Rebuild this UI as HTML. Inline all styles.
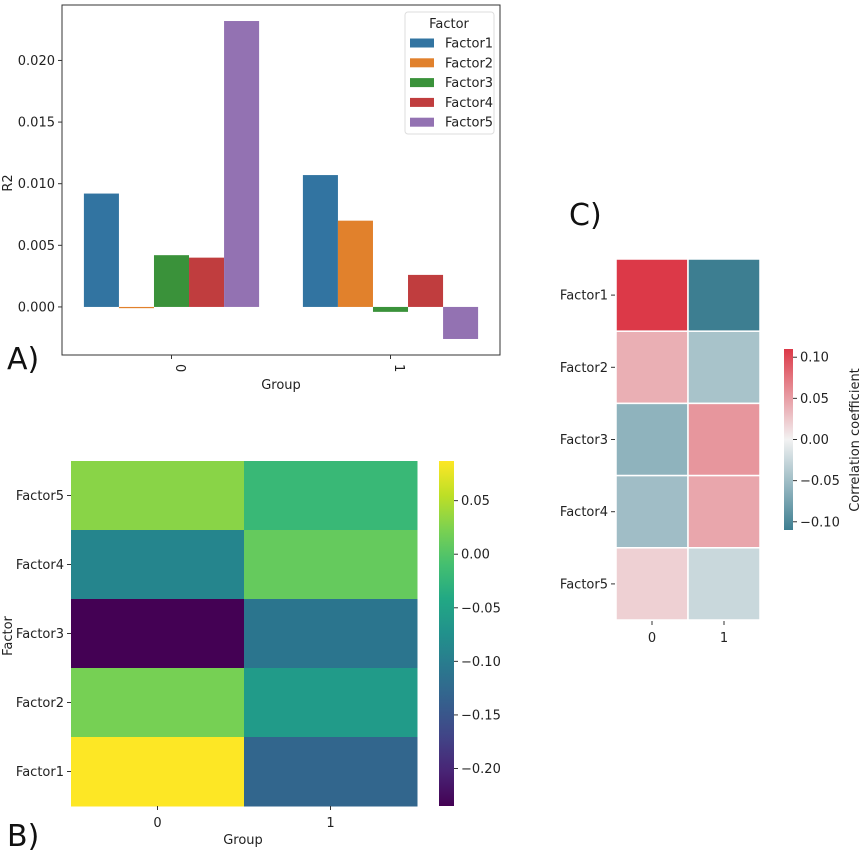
<!DOCTYPE html>
<html><head><meta charset="utf-8"><style>
html,body{margin:0;padding:0;background:#fff}
svg{display:block;font-family:"DejaVu Sans","Liberation Sans",sans-serif}
</style></head><body>
<svg id="s" width="865" height="856" viewBox="0 0 865 856"></svg>
<script>
// ---- Chart A data ----
const groupsA = ["0","1"];
const factorsA = ["Factor1","Factor2","Factor3","Factor4","Factor5"];
const r2Group0 = [0.0092,-0.0001,0.0042,0.0040,0.0232];
const r2Group1 = [0.0107,0.0070,-0.0004,0.0026,-0.0026];
const yTicksA = [0.000,0.005,0.010,0.015,0.020];
// ---- Chart B data ----
const rowsB = ["Factor5","Factor4","Factor3","Factor2","Factor1"];
const colsB = ["0","1"];
const heatB0 = [0.030,-0.090,-0.235,0.020,0.087];
const heatB1 = [-0.020,0.010,-0.110,-0.060,-0.130];
const cbTicksB = [0.05,0.00,-0.05,-0.10,-0.15,-0.20];
// ---- Chart C data ----
const rowsC = ["Factor1","Factor2","Factor3","Factor4","Factor5"];
const colsC = ["0","1"];
const corrC0 = [0.110,0.040,-0.060,-0.050,0.020];
const corrC1 = [-0.110,-0.045,0.055,0.045,-0.025];
const cbTicksC = [0.10,0.05,0.00,-0.05,-0.10];

const NS="http://www.w3.org/2000/svg";
const svg=document.getElementById('s');
function mk(tag,attrs,parent,text){const e=document.createElementNS(NS,tag);for(const k in attrs)e.setAttribute(k,attrs[k]);if(text!==undefined)e.textContent=text;(parent||svg).appendChild(e);return e;}
function fmt(v,d){const s=Math.abs(v).toFixed(d);return (v<0?"\u2212":"")+s;}

// ===== Chart A =====
const gA=mk('g',{});


const A={x0:62,x1:500,y0:5,y1:355,vmin:-0.0039,vmax:0.0245};
const yA=v=>A.y1-(v-A.vmin)/(A.vmax-A.vmin)*(A.y1-A.y0);
const catW=(A.x1-A.x0)/groupsA.length;
const xCat=i=>A.x0+catW*(i+0.5);
const barW=catW*0.8/factorsA.length;
const colorsA=["#3274a1","#e1812c","#3a923a","#c03d3e","#9372b2"];
[r2Group0,r2Group1].forEach((vals,gi)=>{
  vals.forEach((v,fi)=>{
    const x=xCat(gi)-catW*0.4+fi*barW;
    const y=Math.min(yA(v),yA(0)),h=Math.abs(yA(v)-yA(0));
    const r=mk('rect',{x:x,y:y,width:barW,height:Math.max(h,1),fill:colorsA[fi]},gA);
    
    
  });
});
mk('rect',{x:A.x0,y:A.y0,width:A.x1-A.x0,height:A.y1-A.y0,fill:'none',stroke:'#333','stroke-width':1},gA);
yTicksA.forEach(t=>{
  const y=yA(t);
  mk('line',{x1:A.x0-4,x2:A.x0,y1:y,y2:y,stroke:'#333'},gA);
  const tx=mk('text',{x:A.x0-7,y:y+4.5,'font-size':13,'text-anchor':'end',fill:'#222'},gA,t.toFixed(3));
  
  
});
groupsA.forEach((g,i)=>{
  const x=xCat(i);
  mk('line',{x1:x,x2:x,y1:A.y1,y2:A.y1+4,stroke:'#333'},gA);
  const tx=mk('text',{x:x+4.5,y:A.y1+9,'font-size':13,fill:'#222',transform:`rotate(90 ${x+4.5} ${A.y1+9})`},gA,g);
  
  
});
let t=mk('text',{x:281,y:389,'font-size':13,'text-anchor':'middle',fill:'#222'},gA,'Group');


t=mk('text',{x:12,y:183,'font-size':13,'text-anchor':'middle',fill:'#222',transform:'rotate(-90 12 183)'},gA,'R2');


t=mk('text',{x:7,y:369,'font-size':30,fill:'#111'},gA,'A)');


// legend
const lg=mk('g',{},gA);


mk('rect',{x:405,y:12,width:89,height:122,rx:3,fill:'#fff',stroke:'#ddd'},lg);
mk('text',{x:449,y:28,'font-size':13,'text-anchor':'middle',fill:'#222'},lg,'Factor');
factorsA.forEach((f,i)=>{
  const y=43+i*19.8;
  const e=mk('g',{},lg);
  
  
  mk('rect',{x:410,y:y-4.5,width:24,height:9,fill:colorsA[i]},e);
  mk('text',{x:445,y:y+4.5,'font-size':13,fill:'#222'},e,f);
});

// ===== Chart B (viridis) =====
const vir=[[68,1,84],[72,36,117],[65,68,135],[53,95,141],[42,120,142],[33,145,140],[34,168,132],[68,191,112],[122,209,81],[189,223,38],[253,231,37]];
function viridis(u){u=Math.max(0,Math.min(1,u));const p=u*(vir.length-1),i=Math.min(Math.floor(p),vir.length-2),f=p-i;const c=vir[i].map((a,k)=>Math.round(a+(vir[i+1][k]-a)*f));return `rgb(${c})`;}
const gB=mk('g',{});


const B={x0:71,x1:417,y0:461,y1:806,vmin:-0.235,vmax:0.087};
const cwB=(B.x1-B.x0)/colsB.length,rhB=(B.y1-B.y0)/rowsB.length;
[heatB0,heatB1].forEach((vals,ci)=>{
  vals.forEach((v,ri)=>{
    const r=mk('rect',{x:B.x0+ci*cwB,y:B.y0+ri*rhB,width:cwB+0.5,height:rhB+0.5,fill:viridis((v-B.vmin)/(B.vmax-B.vmin))},gB);
    
    
  });
});
rowsB.forEach((r,i)=>{
  const y=B.y0+(i+0.5)*rhB;
  mk('line',{x1:B.x0-4,x2:B.x0,y1:y,y2:y,stroke:'#333'},gB);
  const tx=mk('text',{x:B.x0-7,y:y+4.5,'font-size':13,'text-anchor':'end',fill:'#222'},gB,r);
  
  
});
colsB.forEach((c,i)=>{
  const x=B.x0+(i+0.5)*cwB;
  mk('line',{x1:x,x2:x,y1:B.y1,y2:B.y1+4,stroke:'#333'},gB);
  const tx=mk('text',{x:x,y:B.y1+21,'font-size':13,'text-anchor':'middle',fill:'#222'},gB,c);
  
  
});
t=mk('text',{x:243,y:844,'font-size':13,'text-anchor':'middle',fill:'#222'},gB,'Group');


t=mk('text',{x:12,y:636,'font-size':13,'text-anchor':'middle',fill:'#222',transform:'rotate(-90 12 636)'},gB,'Factor');


t=mk('text',{x:7,y:846,'font-size':30,fill:'#111'},gB,'B)');


// colorbar B
const defs=mk('defs',{});
const grB=mk('linearGradient',{id:'gradB',x1:0,y1:1,x2:0,y2:0},defs);
for(let i=0;i<=20;i++)mk('stop',{offset:i/20,'stop-color':viridis(i/20)},grB);
const cbB=mk('rect',{x:439,y:B.y0,width:15,height:B.y1-B.y0,fill:'url(#gradB)'},gB);


const yCbB=v=>B.y1-(v-B.vmin)/(B.vmax-B.vmin)*(B.y1-B.y0);
cbTicksB.forEach(v=>{
  const y=yCbB(v);
  mk('line',{x1:454,x2:458,y1:y,y2:y,stroke:'#333'},gB);
  const tx=mk('text',{x:461,y:y+4.5,'font-size':13,fill:'#222'},gB,fmt(v,2));
  
  
});

// ===== Chart C (diverging) =====
const neg=[61,126,145],mid=[242,242,242],pos=[220,57,72];
function div(v,m){const u=Math.max(-1,Math.min(1,v/m));const e=u<0?neg:pos,a=Math.abs(u);return `rgb(${mid.map((c,k)=>Math.round(c+(e[k]-c)*a))})`;}
const gC=mk('g',{});


const C={x0:616,x1:760,y0:259,y1:620,vmax:0.11};
const cwC=(C.x1-C.x0)/colsC.length,rhC=(C.y1-C.y0)/rowsC.length;
[corrC0,corrC1].forEach((vals,ci)=>{
  vals.forEach((v,ri)=>{
    const r=mk('rect',{x:C.x0+ci*cwC,y:C.y0+ri*rhC,width:cwC,height:rhC,fill:div(v,C.vmax),stroke:'#fff','stroke-width':1.5},gC);
    
    
  });
});
rowsC.forEach((r,i)=>{
  const y=C.y0+(i+0.5)*rhC;
  mk('line',{x1:C.x0-5,x2:C.x0-1,y1:y,y2:y,stroke:'#333'},gC);
  const tx=mk('text',{x:C.x0-8,y:y+4.5,'font-size':13,'text-anchor':'end',fill:'#222'},gC,r);
  
  
});
colsC.forEach((c,i)=>{
  const x=C.x0+(i+0.5)*cwC;
  mk('line',{x1:x,x2:x,y1:C.y1+1,y2:C.y1+5,stroke:'#333'},gC);
  const tx=mk('text',{x:x,y:C.y1+22,'font-size':13,'text-anchor':'middle',fill:'#222'},gC,c);
  
  
});
t=mk('text',{x:569,y:225,'font-size':30,fill:'#111'},gC,'C)');


const grC=mk('linearGradient',{id:'gradC',x1:0,y1:1,x2:0,y2:0},defs);
for(let i=0;i<=20;i++)mk('stop',{offset:i/20,'stop-color':div((i/10-1)*C.vmax,C.vmax)},grC);
const CB={y0:349,y1:530};
const cbC=mk('rect',{x:784,y:CB.y0,width:9,height:CB.y1-CB.y0,fill:'url(#gradC)'},gC);


const yCbC=v=>CB.y1-(v+C.vmax)/(2*C.vmax)*(CB.y1-CB.y0);
cbTicksC.forEach(v=>{
  const y=yCbC(v);
  mk('line',{x1:793,x2:797,y1:y,y2:y,stroke:'#333'},gC);
  const tx=mk('text',{x:800,y:y+4.5,'font-size':13,fill:'#222'},gC,fmt(v,2));
  
  
});
t=mk('text',{x:859,y:440,'font-size':13,'text-anchor':'middle',fill:'#222',transform:'rotate(-90 859 440)'},gC,'Correlation coefficient');


</script>
</body></html>
